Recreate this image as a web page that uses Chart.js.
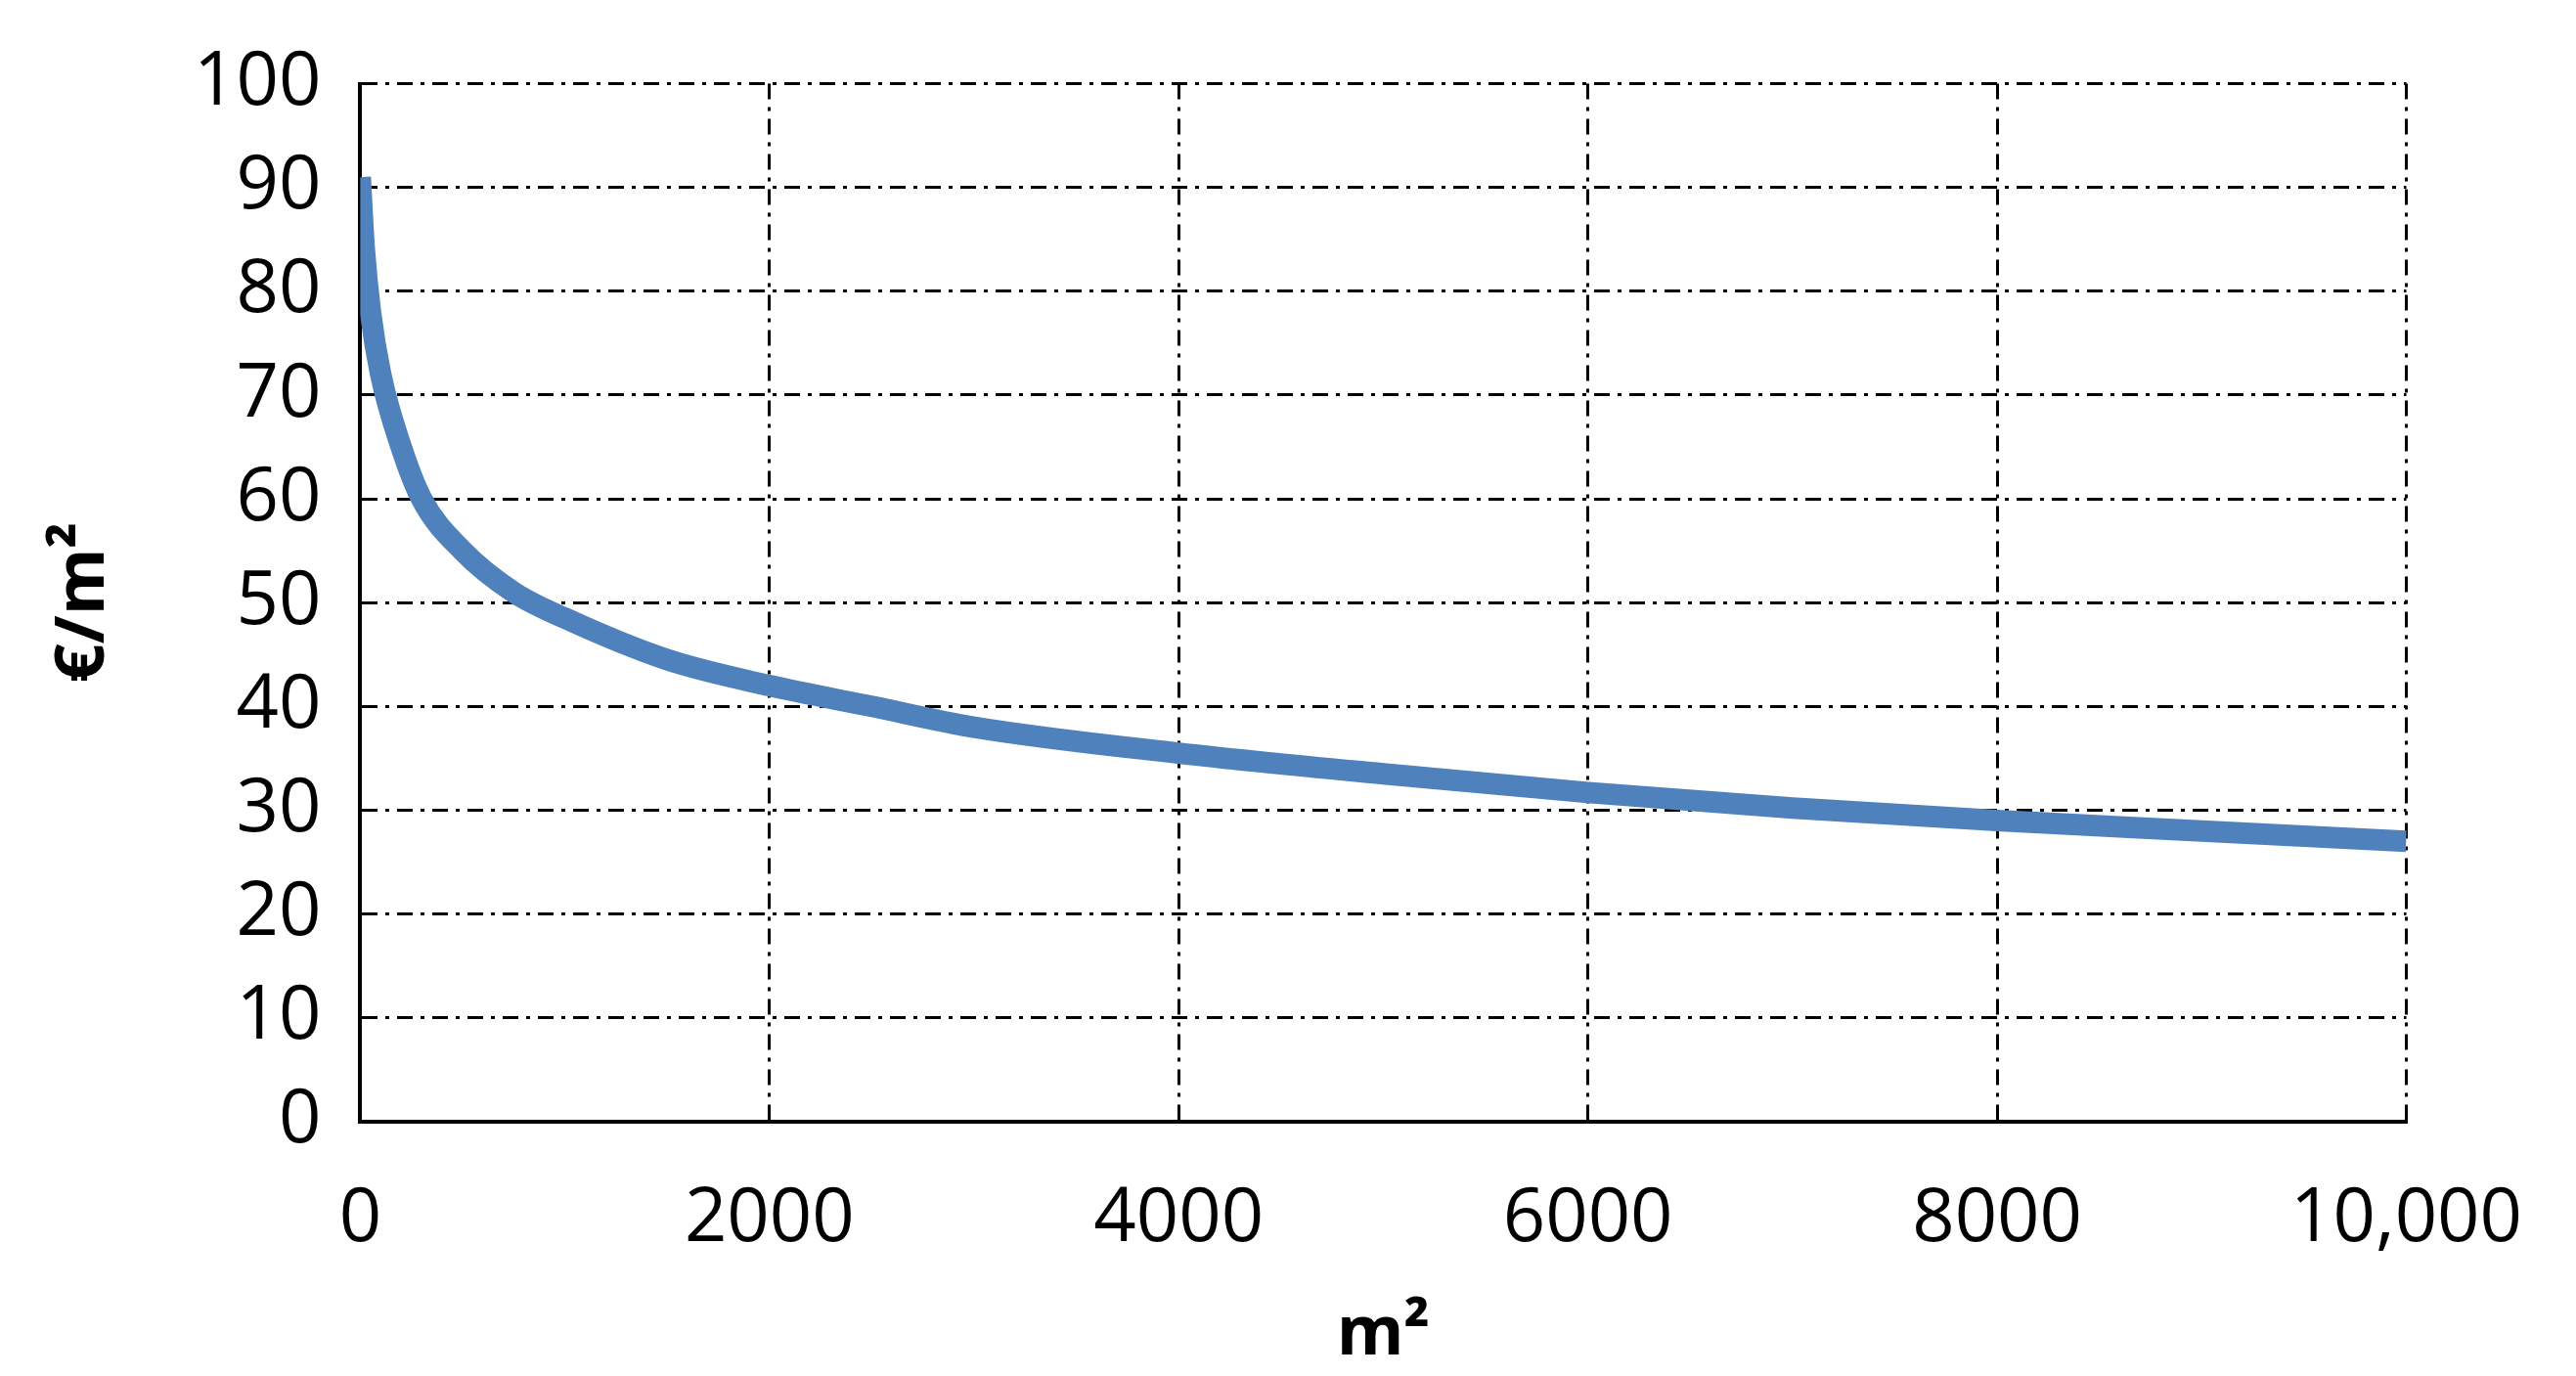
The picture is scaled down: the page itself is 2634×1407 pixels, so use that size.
<!DOCTYPE html>
<html>
<head>
<meta charset="utf-8">
<script src="https://cdn.jsdelivr.net/npm/chart.js@4"></script>
<style>
  html, body { margin: 0; padding: 0; background: #fff; }
  #wrap { width: 2634px; height: 1407px; }
</style>
</head>
<body>
<div id="wrap"><canvas id="c" width="2634" height="1407"></canvas></div>
<script>
// values
const areas = [0, 20, 50, 100, 200, 300, 500, 750, 1000, 1500, 2000, 2500, 3000, 4000, 5000, 6000, 7000, 8000, 9000, 10000];
const prices = [91, 84, 78, 72, 65, 60, 55, 51, 48.5, 44.5, 42, 40, 38, 35.5, 33.5, 31.7, 30.2, 29, 28, 27];
const xTicks = [0, 2000, 4000, 6000, 8000, 10000];

const font = "'Liberation Sans Narrow', 'Open Sans', sans-serif";
const gridDash = [16, 8, 4, 8];

new Chart(document.getElementById('c'), {
    type: 'line',
    data: {
        datasets: [{
            data: areas.map((a, i) => ({ x: a, y: prices[i] })),
            borderColor: '#4f81bd',
            borderWidth: 22,
            pointRadius: 0,
            cubicInterpolationMode: 'monotone',
            fill: false
        }]
    },
    options: {
        responsive: false,
        animation: false,
        plugins: { legend: { display: false }, tooltip: { enabled: false } },
        layout: { padding: { left: 40, right: 120, top: 25, bottom: 0 } },
        scales: {
            x: {
                type: 'linear', min: 0, max: 10000,
                afterBuildTicks: s => { s.ticks = xTicks.map(v => ({ value: v })); },
                ticks: {
                    color: '#000', font: { family: font, size: 76 }, padding: 55,
                    maxRotation: 0,
                    callback: v => v === 10000 ? '10,000' : String(v)
                },
                grid: { color: '#000', lineWidth: 3, drawTicks: false },
                border: { color: '#000', width: 4, dash: gridDash },
                title: { display: true, text: 'm²', color: '#000', font: { family: font, size: 70, weight: 'bold' }, padding: { top: -25, bottom: 0 } }
            },
            y: {
                min: 0, max: 100,
                ticks: { stepSize: 10, color: '#000', font: { family: font, size: 76 }, padding: 40 },
                grid: { color: '#000', lineWidth: 3, drawTicks: false },
                border: { color: '#000', width: 4, dash: gridDash },
                title: { display: true, text: '€/m²', color: '#000', font: { family: font, size: 70, weight: 'bold' }, padding: { bottom: 30 } }
            }
        }
    }
});
</script>
</body>
</html>
